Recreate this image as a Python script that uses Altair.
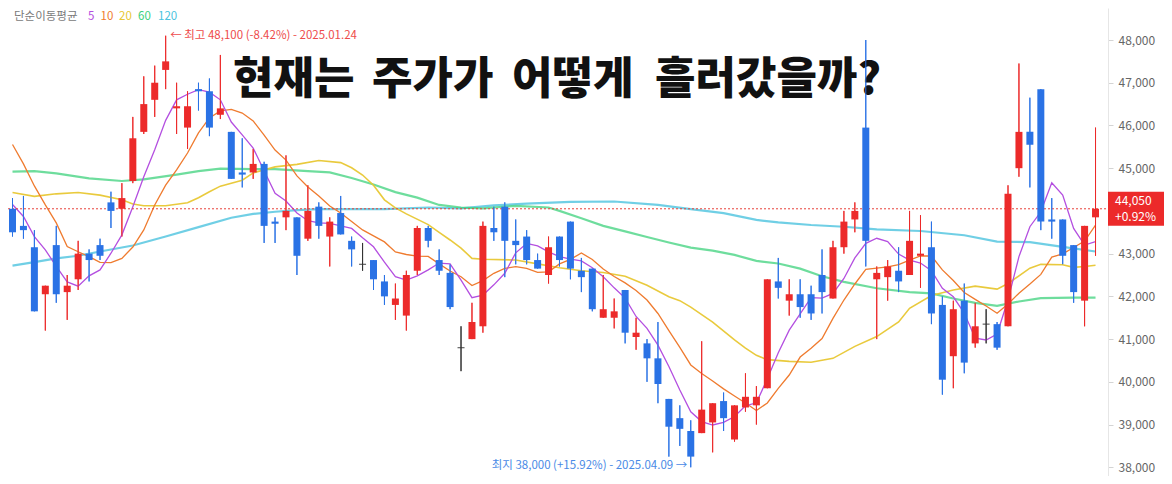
import altair as alt
import pandas as pd

# ---------------- data ----------------
idx = list(range(100))
opens = [44050, 43650, 43150, 42050, 43200, 42100, 42400, 43000, 43200, 44200,
         44050, 44700, 45850, 46600, 47300, 46400, 45950, 46850, 46800, 46250,
         45850, 44900, 44900, 45100, 43750, 43850, 43850, 43350, 44100, 43400,
         43950, 43300, 42750, 42850, 42350, 41800, 41550, 42600, 43600, 42850,
         42550, 40800, 41000, 41300, 43600, 44100, 43300, 43400, 42850, 42500,
         43400, 43750, 42600, 42650, 41500, 41500, 42150, 41050, 40900, 40550,
         39600, 39150, 38850, 38800, 39050, 39550, 38650, 39400, 39450, 39850,
         42350, 41900, 42050, 42050, 42500, 41950, 43150, 43800, 45950, 42400,
         42450, 42600, 42500, 42950, 43150, 41800, 40600, 41900, 40900, 41350,
         41350, 41300, 45000, 45850, 46850, 43800, 43800, 43200, 41900, 43850]
highs = [44300, 44350, 43550, 42250, 43650, 42500, 43300, 43100, 43350, 44450,
         44650, 46200, 47150, 47400, 48100, 47000, 46800, 47000, 47100, 47650,
         45850, 45700, 45450, 45150, 43850, 45300, 43850, 44600, 44200, 43850,
         44350, 43400, 43250, 42850, 42500, 42300, 42600, 43650, 43650, 43100,
         42750, 41300, 41850, 43750, 44100, 44200, 43800, 43550, 43000, 43400,
         43400, 43750, 42900, 42650, 42500, 41950, 42150, 41500, 41000, 41400,
         39600, 39450, 39100, 40950, 39500, 39750, 39450, 40200, 39900, 42400,
         42900, 42400, 42400, 42250, 43100, 43300, 44000, 44200, 48000, 42700,
         42850, 43150, 44000, 43900, 43750, 42000, 41900, 42300, 41850, 41700,
         41400, 44600, 47450, 46650, 46850, 44300, 43800, 43200, 43650, 45950]
lows = [43400, 43350, 41650, 41200, 41850, 41450, 42150, 42350, 42850, 43600,
        43400, 44650, 45800, 46200, 46850, 45800, 45450, 46350, 45750, 46150,
        44750, 44550, 44750, 43250, 43250, 43550, 42500, 43300, 43350, 42700,
        43450, 42700, 42600, 42150, 41800, 41450, 41200, 42500, 43150, 42500,
        41700, 40250, 41000, 41150, 43300, 42450, 42750, 42750, 42650, 42300,
        42700, 42400, 42100, 41650, 41500, 41250, 40900, 40750, 40000, 39500,
        38250, 38500, 38000, 38800, 38350, 38850, 38600, 39300, 39000, 39850,
        41950, 41550, 41500, 41450, 41600, 41950, 43000, 43500, 42700, 41000,
        41900, 42100, 42500, 42200, 41350, 39700, 39850, 40200, 40800, 40900,
        40750, 41300, 44800, 44550, 43550, 43350, 42750, 41850, 41300, 42950]
closes = [43500, 43550, 41650, 42250, 42050, 42250, 43000, 42850, 42950, 44000,
          44300, 45700, 46500, 47000, 47500, 46450, 46450, 46800, 45950, 46400,
          44750, 44850, 45100, 43650, 43700, 44000, 42950, 44000, 43650, 43750,
          43450, 43100, 42750, 42400, 42000, 41950, 42500, 43600, 43300, 42600,
          41750, 40800, 41400, 43650, 43500, 43300, 43200, 42850, 42650, 43150,
          42850, 42650, 42450, 41700, 41700, 41650, 41150, 41150, 40550, 39950,
          38950, 38900, 38250, 39350, 39500, 39150, 39450, 39650, 39650, 42400,
          42200, 42050, 41750, 41600, 42100, 43150, 43750, 44000, 43300, 42550,
          42700, 42350, 43300, 43000, 41600, 40050, 41700, 40450, 41300, 41350,
          40800, 44400, 45850, 45550, 43750, 43750, 42950, 42100, 43650, 44050]

ma5_val = [44150, 43870, 43400, 43090, 42700, 42340, 42240, 42480, 42620, 43010,
           43440, 44100, 44800, 45430, 46120, 46600, 46730, 46840, 46780, 46600,
           46080, 45780, 45470, 44940, 44410, 44230, 43950, 43770, 43720, 43710,
           43650, 43590, 43370, 43160, 42800, 42460, 42380, 42480, 42620, 42780,
           42760, 42380, 41970, 42030, 42270, 42540, 43020, 43240, 43180, 43040,
           42930, 42870, 42830, 42670, 42460, 42200, 41960, 41530, 41250, 40860,
           40360, 39810, 39300, 39070, 38990, 39050, 39190, 39440, 39510, 40070,
           40680, 41210, 41590, 41970, 41960, 42070, 42420, 42900, 43240, 43360,
           43280, 42990, 42850, 42780, 42600, 42190, 41990, 41610, 41020, 40980,
           41120, 41920, 42930, 43630, 43980, 44660, 44370, 43590, 43200, 43280]
ma10_val = [45555, 45100, 44585, 44140, 43720, 43165, 43045, 42930, 42795, 42790,
            42890, 43155, 43555, 44140, 44605, 44960, 45355, 45825, 46175, 46340,
            46375, 46290, 46105, 45775, 45425, 45190, 44820, 44560, 44350, 44115,
            43950, 43750, 43555, 43415, 43275, 43040, 42980, 42940, 42935, 42760,
            42595, 42460, 42255, 42370, 42540, 42655, 42695, 42655, 42560, 42575,
            42760, 42865, 43015, 42865, 42640, 42465, 42315, 42140, 41915, 41600,
            41200, 40805, 40395, 40195, 40020, 39835, 39670, 39505, 39330, 39505,
            39845, 40160, 40580, 40785, 41015, 41485, 41915, 42290, 42635, 42660,
            42690, 42745, 42850, 42945, 42945, 42620, 42370, 42090, 41930, 41775,
            41605, 41820, 42075, 42290, 42515, 42920, 42995, 43145, 43295, 43670]
ma20_idx = [0, 2, 4, 6, 8, 10, 11, 12, 14, 16, 17, 18, 19, 21, 22, 24, 26, 28, 30, 31,
            32, 33, 34, 35, 36, 38, 39, 40, 41, 42, 43, 46, 48, 50, 52, 54, 56, 58, 60, 61,
            62, 64, 66, 67, 68, 69, 71, 73, 75, 77, 79, 81, 82, 84, 86, 88, 90, 91, 93, 94,
            96, 97, 98, 99]
ma20_val = [44430, 44340, 44400, 44430, 44370, 44260, 44160, 44120, 44120, 44190,
            44310, 44450, 44580, 44720, 44890, 45030, 45090, 45180, 45130, 45010,
            44840, 44600, 44260, 44070, 43930, 43680, 43500, 43320, 43130, 42890,
            42870, 42850, 42760, 42670, 42600, 42560, 42470, 42260, 41990, 41900,
            41750, 41400, 40980, 40790, 40620, 40520, 40480, 40460, 40550, 40830,
            41060, 41400, 41720, 42020, 42150, 42240, 42170, 42300, 42660, 42750,
            42740, 42680, 42700, 42730]
ma60_idx = [0, 2, 4, 7, 10, 12, 15, 17, 19, 22, 24, 27, 29, 31, 33, 35, 37, 39, 41, 43,
            46, 49, 50, 52, 54, 56, 58, 60, 62, 64, 66, 68, 70, 72, 74, 76, 79, 82, 84, 86,
            88, 90, 92, 94, 97, 99]
ma60_val = [44920, 44930, 44880, 44760, 44700, 44740, 44850, 44930, 44990, 44980,
            44980, 44930, 44900, 44770, 44620, 44440, 44310, 44140, 44080, 44060,
            44120, 44080, 44000, 43830, 43650, 43520, 43390, 43260, 43140, 43070,
            42970, 42830, 42770, 42650, 42470, 42340, 42190, 42100, 42070, 41950,
            41850, 41780, 41880, 41960, 41970, 41970]
ma120_idx = [0, 2, 4, 6, 8, 11, 14, 17, 20, 22, 24, 26, 28, 34, 38, 41, 44, 47, 51, 55,
             59, 62, 65, 68, 70, 73, 76, 79, 83, 87, 90, 93, 96, 99]
ma120_val = [42720, 42800, 42890, 42950, 43050, 43190, 43400, 43620, 43840, 43930,
             43980, 44020, 44040, 44040, 44080, 44060, 44130, 44170, 44210, 44220,
             44140, 44040, 43950, 43790, 43730, 43670, 43630, 43570, 43530, 43430,
             43280, 43270, 43160, 43050]

# 44,000 is hidden under the current-price box in the picture
tick_values = [38000, 39000, 40000, 41000, 42000, 43000, 45000, 46000, 47000, 48000]
title_words = ["현재는", "주가가", "어떻게", "흘러갔을까?"]
legend_label = "단순이동평균"
ma_names = ["5", "10", "20", "60", "120"]
max_date = "2025.01.24"
min_date = "2025.04.09"

# ---------------- styling / layout ----------------
RED = "#ec2a2a"
BLUE = "#2a72e5"
DOJI = "#333333"
MA_COLORS = {"5": "#b44fe0", "10": "#ef7b2f", "20": "#e8c733", "60": "#3dd17c", "120": "#4cc3de"}
FONT = "Noto Sans CJK KR"

PLOT_W, PLOT_H = 1100, 468
X0, X1 = 0.0453, 99.683
Y0, Y1 = 37796.4, 48748.9
PX_PER_UNIT = PLOT_H / (Y1 - Y0)

xs = alt.Scale(domain=[X0, X1], nice=False, zero=False)
ys = alt.Scale(domain=[Y0, Y1], nice=False, zero=False)

yaxis = alt.Axis(orient="right", values=tick_values, format=",d", title=None, grid=False,
                 domainColor="#e6e6e6", tickColor="#d4d4d4", tickSize=5, labelPadding=5,
                 labelColor="#666666", labelFontSize=12, labelFont=FONT)


def X(field):
    return alt.X(field, type="quantitative", scale=xs, axis=None)


def Y(field):
    return alt.Y(field, type="quantitative", scale=ys, axis=yaxis, title=None)


cand = pd.DataFrame({"i": idx, "o": opens, "h": highs, "l": lows, "c": closes})
cand["dir"] = ["up" if c > o else ("down" if c < o else "flat") for o, c in zip(opens, closes)]
col = alt.Color("dir:N", scale=alt.Scale(domain=["up", "down", "flat"], range=[RED, BLUE, DOJI]),
                legend=None)

layers = []

# candles' wicks first so that the y axis comes from here
layers.append(alt.Chart(cand).mark_rule(strokeWidth=1).encode(
    x=X("i"), y=Y("l"), y2="h", color=col))

# title, word by word (wide word gaps as in the picture)
title_x = [225, 364, 504, 647]
for w, tx in zip(title_words, title_x):
    layers.append(
        alt.Chart(pd.DataFrame({"t": [w]})).mark_text(
            font=FONT, fontSize=44, fontWeight=900, color="#111111", align="left", baseline="middle"
        ).encode(x=alt.value(tx), y=alt.value(73), text="t:N")
    )

# legend line at the top-left
layers.append(
    alt.Chart(pd.DataFrame({"t": [legend_label]})).mark_text(
        font=FONT, fontSize=11.5, color="#7a7a7a", align="left", baseline="middle"
    ).encode(x=alt.value(6), y=alt.value(8.5), text="t:N")
)
leg_x = [80, 92.5, 111, 130, 150]
for name, lx in zip(ma_names, leg_x):
    layers.append(
        alt.Chart(pd.DataFrame({"t": [name]})).mark_text(
            font=FONT, fontSize=11.5, color=MA_COLORS[name], align="left", baseline="middle"
        ).encode(x=alt.value(lx), y=alt.value(8.5), text="t:N")
    )

# moving averages
ma_specs = [
    ("120", ma120_idx, ma120_val, 2.2, 0.8),
    ("60", ma60_idx, ma60_val, 2.2, 0.75),
    ("20", ma20_idx, ma20_val, 1.6, 0.95),
    ("10", idx, ma10_val, 1.3, 1.0),
    ("5", idx, ma5_val, 1.3, 1.0),
]
for name, ii, vv, w, op in ma_specs:
    d = pd.DataFrame({"i": ii, "v": vv})
    layers.append(
        alt.Chart(d).mark_line(color=MA_COLORS[name], strokeWidth=w, opacity=op).encode(
            x=X("i"), y=Y("v"))
    )

# current price dotted line
last_close = closes[-1]
prev_close = closes[-2]
cur = pd.DataFrame({"v": [last_close]})
layers.append(
    alt.Chart(cur).mark_rule(color="#e8403a", strokeDash=[2, 2], strokeWidth=1).encode(
        y=Y("v"), x=alt.value(0), x2=alt.value(PLOT_W))
)

# candles drawn over the lines
layers.append(alt.Chart(cand).mark_rule(strokeWidth=1).encode(
    x=X("i"), y=Y("l"), y2="h", color=col))
layers.append(alt.Chart(cand).transform_filter("datum.dir != 'flat'").mark_bar(size=7).encode(
    x=X("i"), y=Y("o"), y2="c", color=col))
layers.append(alt.Chart(cand).transform_filter("datum.dir == 'flat'").mark_tick(
    orient="horizontal", size=7, thickness=1.3).encode(x=X("i"), y=Y("c"), color=col))

# max / min annotations
hi = max(highs)
hi_i = highs.index(hi)
lo = min(lows)
lo_i = lows.index(lo)
hi_txt = f"← 최고 {hi:,} ({(last_close / hi - 1) * 100:+.2f}%) - {max_date}"
lo_txt = f"최지 {lo:,} ({(last_close / lo - 1) * 100:+.2f}%) - {min_date} →"
layers.append(
    alt.Chart(pd.DataFrame({"i": [hi_i], "v": [hi], "t": [hi_txt]})).mark_text(
        font=FONT, fontSize=11.5, color="#ee4b4b", align="left", baseline="middle", dx=4.5
    ).encode(x=X("i"), y=Y("v"), text="t:N")
)
layers.append(
    alt.Chart(pd.DataFrame({"i": [lo_i], "v": [lo], "t": [lo_txt]})).mark_text(
        font=FONT, fontSize=11.5, color="#4a8ae6", align="right", baseline="middle", dx=-3.5, dy=-1
    ).encode(x=X("i"), y=Y("v"), text="t:N")
)

# current price box on the axis
half = 17 / PX_PER_UNIT
box = pd.DataFrame({
    "top": [last_close + half], "bot": [last_close - half], "v": [last_close],
    "p": [f"{last_close:,}"], "q": [f"{(last_close / prev_close - 1) * 100:+.2f}%"],
})
layers.append(alt.Chart(box).mark_rect(color=RED).encode(
    x=alt.value(PLOT_W), x2=alt.value(PLOT_W + 62), y=Y("top"), y2="bot"))
layers.append(alt.Chart(box).mark_text(
    font=FONT, fontSize=12, color="white", align="left", baseline="middle", dy=-8
).encode(x=alt.value(PLOT_W + 7), y=Y("v"), text="p:N"))
layers.append(alt.Chart(box).mark_text(
    font=FONT, fontSize=12, color="white", align="left", baseline="middle", dy=8
).encode(x=alt.value(PLOT_W + 7), y=Y("v"), text="q:N"))

chart = alt.layer(*layers).properties(
    width=PLOT_W, height=PLOT_H,
    autosize=alt.AutoSizeParams(type="none"),
    padding={"left": 0, "top": 0, "right": 56, "bottom": 0},
    background="white",
).configure_view(strokeWidth=0)

chart.save("out.html", embed_options={"renderer": "svg", "actions": False})
